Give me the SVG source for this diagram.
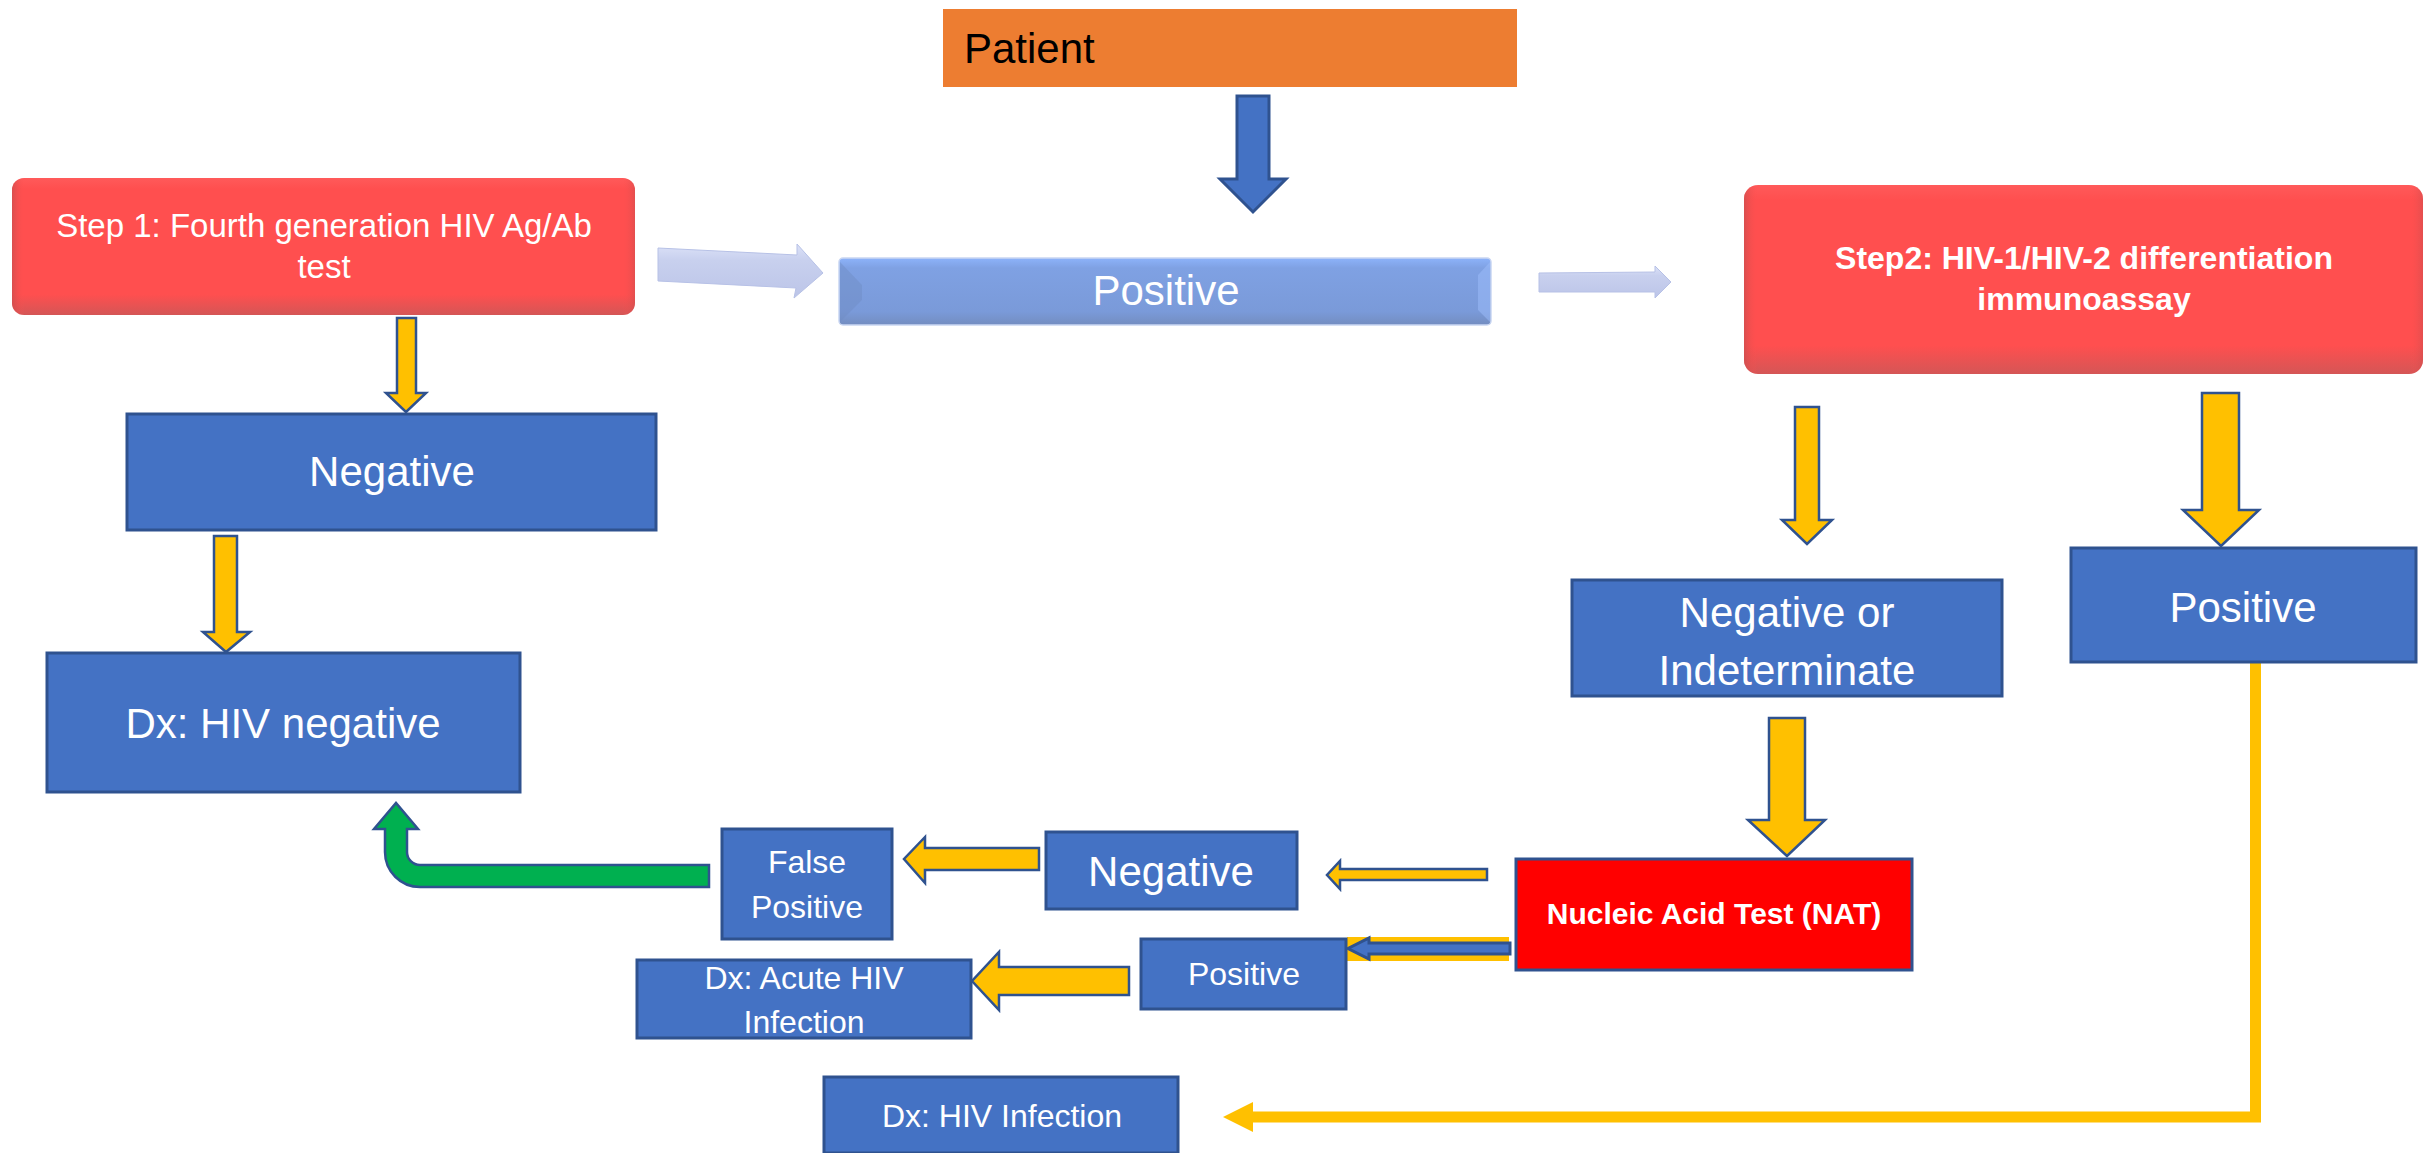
<svg xmlns="http://www.w3.org/2000/svg" width="2425" height="1153" viewBox="0 0 2425 1153">
<defs>
<style>
.t{font-family:"Liberation Sans",Arial,sans-serif;fill:#fff;text-anchor:middle}
.b{fill:#4472C4;stroke:#2F528F;stroke-width:3}
.y{fill:#FFC000;stroke:#2F528F;stroke-width:2.5;stroke-linejoin:miter}
.f42{font-size:42px}
.f32{font-size:32px}
</style>
<linearGradient id="redG" x1="0" y1="0" x2="0" y2="1">
<stop offset="0" stop-color="#FF5A5A"/>
<stop offset="0.08" stop-color="#FF4F4F"/>
<stop offset="0.85" stop-color="#FF4F4F"/>
<stop offset="1" stop-color="#D45656"/>
</linearGradient>
<linearGradient id="redL" x1="0" y1="0" x2="1" y2="0">
<stop offset="0" stop-color="#C84E4E" stop-opacity="0.7"/>
<stop offset="0.02" stop-color="#FF4F4F" stop-opacity="0"/>
<stop offset="0.98" stop-color="#FF4F4F" stop-opacity="0"/>
<stop offset="1" stop-color="#C84E4E" stop-opacity="0.5"/>
</linearGradient>
<linearGradient id="bluG" x1="0" y1="0" x2="0" y2="1">
<stop offset="0" stop-color="#8DB3FA"/>
<stop offset="0.15" stop-color="#7FA1E3"/>
<stop offset="0.8" stop-color="#7A9AD9"/>
<stop offset="1" stop-color="#738DC0"/>
</linearGradient>
<linearGradient id="lavG" x1="0" y1="0" x2="0" y2="1">
<stop offset="0" stop-color="#DCE2F8"/>
<stop offset="0.3" stop-color="#C8D0EE"/>
<stop offset="1" stop-color="#BCC5E8"/>
</linearGradient>
</defs>

<g id="connectors">
<!-- Patient -> Positive -->
<polygon class="b" stroke-width="2" points="1237,96 1269,96 1269,179 1286,179 1253,212 1220,179 1237,179"/>
<!-- Step1 -> Positive (3D light arrow) -->
<polygon fill="url(#lavG)" stroke="#B7C1E6" stroke-width="1" points="658,248 797,255 797,244 823,273 794,298 796,288 658,281"/>
<!-- Positive -> Step2 -->
<polygon fill="url(#lavG)" stroke="#B7C1E6" stroke-width="1" points="1539,273 1655,272 1655,266 1671,282 1655,298 1655,292 1539,292"/>
<!-- Step1 -> Negative -->
<polygon class="y" points="397,318 416,318 416,393 426,393 406,412 386,393 397,393"/>
<!-- Negative -> Dx negative -->
<polygon class="y" points="214,536 237,536 237,632 250,632 226,652 203,632 214,632"/>
<!-- Step2 -> Neg/Indet -->
<polygon class="y" points="1795,407 1819,407 1819,520 1832,520 1807,544 1782,520 1795,520"/>
<!-- Step2 -> Positive -->
<polygon class="y" points="2202,393 2239,393 2239,510 2259,510 2221,546 2183,510 2202,510"/>
<!-- Neg/Indet -> NAT -->
<polygon class="y" points="1769,718 1805,718 1805,820 1825,820 1787,856 1748,820 1769,820"/>
<!-- NAT -> Negative -->
<polygon class="y" stroke-width="2" points="1487,869 1487,880 1340,880 1340,889 1327,875 1340,861 1340,869"/>
<!-- NAT -> Positive -->
<rect x="1347" y="937" width="162" height="24" fill="#FFC000"/>
<polygon class="b" stroke-width="2" points="1510,943 1510,954 1369,954 1369,959 1348,948.5 1369,938 1369,943"/>
<!-- Negative -> False Positive -->
<polygon class="y" points="1039,848 1039,870 925,870 925,883 904,859 925,837 925,848"/>
<!-- Positive -> Dx Acute -->
<polygon class="y" points="1129,967 1129,995 999,995 999,1010 972,981 999,952 999,967"/>
<!-- False Positive -> Dx negative (green U-turn) -->
<path fill="#00B050" stroke="#2F528F" stroke-width="2.5" d="M709,865 L420,865 A13,13 0 0 1 407,852 L407,829 L418,829 L396,803 L374,829 L385,829 L385,852 A35,35 0 0 0 420,887 L709,887 Z"/>
<!-- Positive (right) -> Dx HIV Infection -->
<polyline fill="none" stroke="#FFC000" stroke-width="11" points="2255.5,662 2255.5,1117 1250,1117"/>
<polygon fill="#FFC000" points="1253,1102 1253,1132 1223,1117"/>
</g>

<g id="patient">
<rect x="943" y="9" width="574" height="78" fill="#ED7D31"/>
<text x="964" y="63" font-family="Liberation Sans,Arial,sans-serif" font-size="42" fill="#000">Patient</text>
</g>

<g id="step1">
<rect x="12" y="178" width="623" height="137" rx="12" fill="url(#redG)"/>
<rect x="12" y="178" width="623" height="137" rx="12" fill="url(#redL)"/>
<text class="t" font-size="33" x="324" y="237">Step 1: Fourth generation HIV Ag/Ab</text>
<text class="t" font-size="33" x="324" y="278">test</text>
</g>

<g id="positive-main">
<rect x="839" y="258" width="652" height="67" rx="4" fill="url(#bluG)" stroke="#C9D6F2" stroke-width="1.5"/>
<polygon points="840,262 862,285 862,300 840,322" fill="#6F8BC4" opacity="0.45"/>
<polygon points="1490,262 1478,275 1478,310 1490,322" fill="#9DBDFB" opacity="0.5"/>
<text class="t f42" x="1166" y="305">Positive</text>
</g>

<g id="step2">
<rect x="1744" y="185" width="679" height="189" rx="14" fill="url(#redG)"/>
<rect x="1744" y="185" width="679" height="189" rx="14" fill="url(#redL)"/>
<text class="t" font-size="32" font-weight="bold" x="2084" y="269">Step2: HIV-1/HIV-2 differentiation</text>
<text class="t" font-size="32" font-weight="bold" x="2084" y="310">immunoassay</text>
</g>

<g id="negative-left">
<rect class="b" x="127" y="414" width="529" height="116"/>
<text class="t f42" x="392" y="486">Negative</text>
</g>

<g id="dx-hiv-negative">
<rect class="b" x="47" y="653" width="473" height="139"/>
<text class="t f42" x="283" y="738">Dx: HIV negative</text>
</g>

<g id="neg-indet">
<rect class="b" x="1572" y="580" width="430" height="116"/>
<text class="t f42" x="1787" y="627">Negative or</text>
<text class="t f42" x="1787" y="685">Indeterminate</text>
</g>

<g id="positive-right">
<rect class="b" x="2071" y="548" width="345" height="114"/>
<text class="t f42" x="2243" y="622">Positive</text>
</g>

<g id="nat">
<rect x="1516" y="859" width="396" height="111" fill="#FF0000" stroke="#2F528F" stroke-width="3"/>
<text class="t" font-size="30" font-weight="bold" x="1714" y="924">Nucleic Acid Test (NAT)</text>
</g>

<g id="negative-mid">
<rect class="b" x="1046" y="832" width="251" height="77"/>
<text class="t f42" x="1171" y="886">Negative</text>
</g>

<g id="false-positive">
<rect class="b" x="722" y="829" width="170" height="110"/>
<text class="t f32" x="807" y="873">False</text>
<text class="t f32" x="807" y="918">Positive</text>
</g>

<g id="positive-small">
<rect class="b" x="1141" y="939" width="205" height="70"/>
<text class="t f32" x="1244" y="985">Positive</text>
</g>

<g id="dx-acute">
<rect class="b" x="637" y="960" width="334" height="78"/>
<text class="t f32" x="804" y="989">Dx: Acute HIV</text>
<text class="t f32" x="804" y="1033">Infection</text>
</g>

<g id="dx-hiv-infection">
<rect class="b" x="824" y="1077" width="354" height="76"/>
<text class="t f32" x="1002" y="1127">Dx: HIV Infection</text>
</g>
</svg>
